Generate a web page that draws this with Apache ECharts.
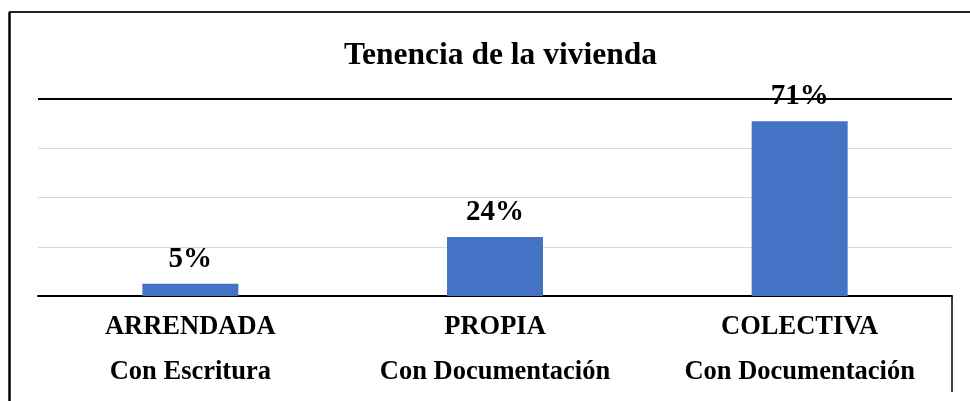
<!DOCTYPE html>
<html>
<head>
<meta charset="utf-8">
<script src="https://cdn.jsdelivr.net/npm/echarts@6/dist/echarts.min.js"></script>
<style>
html,body{margin:0;padding:0;background:#fff;}
#chart{width:970px;height:401px;}
</style>
</head>
<body>
<div id="chart"></div>
<script>
const titleText = "Tenencia de la vivienda";
const categoryNames = ["ARRENDADA", "PROPIA", "COLECTIVA"];
const categorySubtitles = ["Con Escritura", "Con Documentación", "Con Documentación"];
const values = [5, 24, 71];
const yMin = 0, yMax = 80, yStep = 20;

const FONT = '"Liberation Serif", "Times New Roman", serif';
const categories = categoryNames.map((n, i) => n + "\n" + categorySubtitles[i]);

const chart = echarts.init(document.getElementById('chart'), null, {renderer: 'canvas'});
chart.setOption({
  animation: false,
  backgroundColor: '#fff',
  title: {
    text: titleText,
    left: 339,
    top: 35,
    textStyle: {fontFamily: FONT, fontWeight: 'bold', fontSize: 31.5, color: '#000'}
  },
  grid: {left: 38, right: 18, top: 99, bottom: 105, containLabel: false},
  xAxis: {
    type: 'category',
    data: categories,
    axisLine: {show: true, lineStyle: {color: '#000', width: 2}},
    axisTick: {show: false},
    axisLabel: {
      margin: 9,
      interval: 0,
      formatter: function (v) {
        const p = v.split("\n");
        return "{a|" + p[0] + "}\n{b|" + p[1] + "}";
      },
      rich: {
        a: {fontFamily: FONT, fontWeight: 'bold', fontSize: 26.5, color: '#000', lineHeight: 45},
        b: {fontFamily: FONT, fontWeight: 'bold', fontSize: 26.5, color: '#000', lineHeight: 45}
      }
    }
  },
  yAxis: {
    type: 'value',
    min: yMin, max: yMax, interval: yStep,
    axisLabel: {show: false},
    axisLine: {show: false},
    axisTick: {show: false},
    splitLine: {show: true, lineStyle: {color: '#d9d9d9', width: 1}}
  },
  series: [{
    type: 'bar',
    data: values,
    barWidth: '31.5%',
    itemStyle: {color: '#4472C4'},
    label: {
      show: true,
      position: 'top',
      distance: 10,
      formatter: '{c}%',
      fontFamily: FONT, fontWeight: 'bold', fontSize: 29, color: '#000'
    },
    markLine: {
      silent: true,
      symbol: 'none',
      label: {show: false},
      lineStyle: {color: '#000', width: 2, type: 'solid'},
      data: [{yAxis: yMax}],
      z: 1
    }
  }],
  graphic: [
    {type: 'line', shape: {x1: 9.5, y1: 12, x2: 9.5, y2: 401}, style: {stroke: '#000', lineWidth: 2.5}},
    {type: 'line', shape: {x1: 9, y1: 12, x2: 970, y2: 12}, style: {stroke: '#222', lineWidth: 2}},
    {type: 'line', shape: {x1: 952, y1: 296, x2: 952, y2: 392}, style: {stroke: '#000', lineWidth: 1.5}}
  ]
});
</script>
</body>
</html>
